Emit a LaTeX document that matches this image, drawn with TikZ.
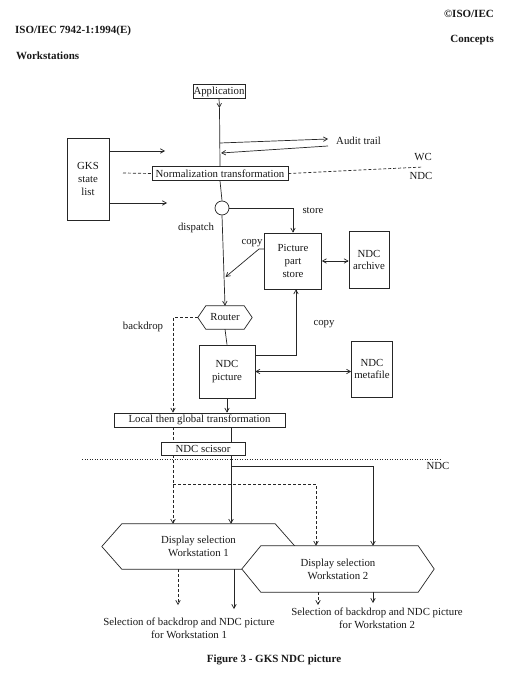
\documentclass[tikz,border=0pt]{standalone}
\usepackage{fontspec}
\setmainfont{Liberation Serif}
\usetikzlibrary{arrows.meta,backgrounds,calc}
\begin{document}
\begin{tikzpicture}[x=1pt,y=-1pt,
  every node/.style={font=\fontsize{10.8}{12.8}\selectfont, inner sep=0pt, align=center, text=black!90},
  ln/.style={line width=0.7pt, draw=black!85},
  box/.style={ln, draw, fill=white},
  tip/.style={-{Straight Barb[length=4pt,width=4.5pt]}},
  arr/.style={ln, tip},
  darr/.style={ln, {Straight Barb[length=4pt,width=4.5pt]}-{Straight Barb[length=4pt,width=4.5pt]}},
  dsh/.style={ln, dash pattern=on 3pt off 2pt},
  dot/.style={ln, dash pattern=on 0.8pt off 1.7pt},
  hdr/.style={font=\fontsize{11}{12}\selectfont\bfseries}
]
\useasboundingbox (0,0) rectangle (518,679);

% headers
\node[hdr, anchor=west] (h1) at (15,31) {ISO/IEC 7942-1:1994(E)};
\node[hdr, anchor=west] (h2) at (16,56) {Workstations};
\node[hdr, anchor=east] (h3) at (494,14) {©ISO/IEC};
\node[hdr, anchor=east] (h4) at (494,40) {Concepts};
\node[hdr] (fig) at (274,660) {Figure 3 - GKS NDC picture};

% main nodes
\node[box, minimum width=52pt, minimum height=14pt] (app) at (219,91.5) {Application};
\node[box, minimum width=136pt, minimum height=14pt] (norm) at (220,173.5) {Normalization transformation};
\node[box, minimum width=42pt, minimum height=82pt] (gks) at (88,179) {GKS\\state\\list};
\node[ln, draw, circle, minimum size=14pt] (circ) at (222,208) {};
\node[box, minimum width=57pt, minimum height=56pt] (pps) at (293,261) {Picture\\part\\store};
\node[box, minimum width=40pt, minimum height=57pt] (arch) at (369,260) {NDC\\archive};
\node[minimum width=54pt, minimum height=23pt] (router) at (225,317.5) {Router};
\node[box, minimum width=56pt, minimum height=53pt] (pic) at (227,371.5) {NDC\\picture};
\node[box, minimum width=41pt, minimum height=56pt] (meta) at (372,369) {NDC\\metafile};
\node[box, minimum width=171pt, minimum height=14pt] (local) at (199.5,420) {Local then global transformation};
\node[box, minimum width=84pt, minimum height=13pt] (sci) at (203,448.5) {NDC scissor};
\node[minimum width=193pt, minimum height=45pt] (hex1) at (198.5,546.5) {Display selection\\Workstation 1};
\node[minimum width=192pt, minimum height=46pt] (hex2) at (338,569) {Display selection\\Workstation 2};

% labels
\node (store) at (313,211) {store};
\node (dispatch) at (196,228) {dispatch};
\node (copyA) at (252,243) {copy};
\node (copyB) at (324,324) {copy};
\node (backdrop) at (143,327) {backdrop};
\node[anchor=west] (audit) at (336,141) {Audit trail};
\node (wc) at (423,157) {WC};
\node (ndcA) at (421,176) {NDC};
\node (ndcB) at (438,466) {NDC};
\node (sel1) at (189,628) {Selection of backdrop and NDC picture\\for Workstation 1};
\node (sel2) at (377,618) {Selection of backdrop and NDC picture\\for Workstation 2};

% background and hexagons
\begin{scope}[on background layer]
\fill[white] (0,0) rectangle (518,679);
\draw[ln, fill=white] (router.west) -- ([xshift=8pt]router.north west) -- ([xshift=-8pt]router.north east) -- (router.east) -- ([xshift=-8pt]router.south east) -- ([xshift=8pt]router.south west) -- cycle;
\draw[ln, fill=white] (hex1.west) -- ([xshift=20pt]hex1.north west) -- ([xshift=-20pt]hex1.north east) -- (hex1.east) -- ([xshift=-20pt]hex1.south east) -- ([xshift=20pt]hex1.south west) -- cycle;
\draw[ln, fill=white] (hex2.west) -- ([xshift=19pt]hex2.north west) -- ([xshift=-16pt]hex2.north east) -- (hex2.east) -- ([xshift=-16pt]hex2.south east) -- ([xshift=19pt]hex2.south west) -- cycle;
\end{scope}

% helper coordinates
\coordinate (a1) at (219.5,108);
\coordinate (au1) at (220,143);
\coordinate (au2) at (328,139);
\coordinate (au3) at (328,146);
\coordinate (au4) at (221,153);
\coordinate (g1) at (165,151);
\coordinate (g2) at (167,203);
\coordinate (d0) at (123,173);
\coordinate (d1) at (423,167);
\coordinate (cp1) at (259,249);
\coordinate (cp2) at (225.5,277);
\coordinate (y355) at (0,355);
\coordinate (cC) at (296,0);
\coordinate (cB) at (173,0);
\coordinate (cS) at (231,0);
\coordinate (cR) at (373,0);
\coordinate (cD) at (316,0);
\coordinate (yS) at (0,466);
\coordinate (yD) at (0,484);
\coordinate (dl) at (82,459);
\coordinate (dr) at (440,459);
\coordinate (t1d) at (178,605);
\coordinate (t1s) at (234,609);
\coordinate (t2d) at (318,605);
\coordinate (t2s) at (373,603);

% main flow
\draw[arr] (app.south) -- (a1);
\draw[ln] (a1) -- (norm.north);
\draw[arr] (au1) -- (au2);
\draw[arr] (au3) -- (au4);
\draw[arr] (gks.east |- g1) -- (g1);
\draw[arr] (gks.east |- g2) -- (g2);
\draw[dsh] (d0) -- (norm.west);
\draw[dsh] (norm.east) -- (d1);
\draw[ln] (norm.south) -- (circ.north);
\draw[arr] (circ.south) -- (router.north);
\draw[arr] (circ.east) -| (pps.north);
\draw[arr] (pps.west |- cp1) -- (cp1) -- (cp2);
\draw[darr] (pps.east) -- (pps.east -| arch.west);
\draw[ln] (router.south) -- (pic.north);
\draw[arr] (pic.east |- y355) -| (cC |- pps.south);
\draw[darr] (pic.east) -- (pic.east -| meta.west);
\draw[arr] (pic.south) -- (pic.south |- local.north);
\draw[ln] (cS |- local.south) -- (cS |- sci.north);
\draw[arr] (cS |- sci.south) -- (cS |- hex1.north);
\draw[arr] (cS |- yS) -| (cR |- hex2.north);

% backdrop path
\draw[dsh, tip] (router.west) -| (cB |- local.north);
\draw[dsh] (cB |- local.south) -- (cB |- sci.north);
\draw[dsh, tip] (cB |- sci.south) -- (cB |- hex1.north);
\draw[dsh, tip] (cB |- yD) -| (cD |- hex2.north);

% NDC boundary
\draw[dot] (dl) -- (dr);

% outputs
\draw[dsh, tip] (hex1.south -| t1d) -- (t1d);
\draw[arr] (hex1.south -| t1s) -- (t1s);
\draw[dsh, tip] (hex2.south -| t2d) -- (t2d);
\draw[arr] (hex2.south -| t2s) -- (t2s);
\end{tikzpicture}
\end{document}
